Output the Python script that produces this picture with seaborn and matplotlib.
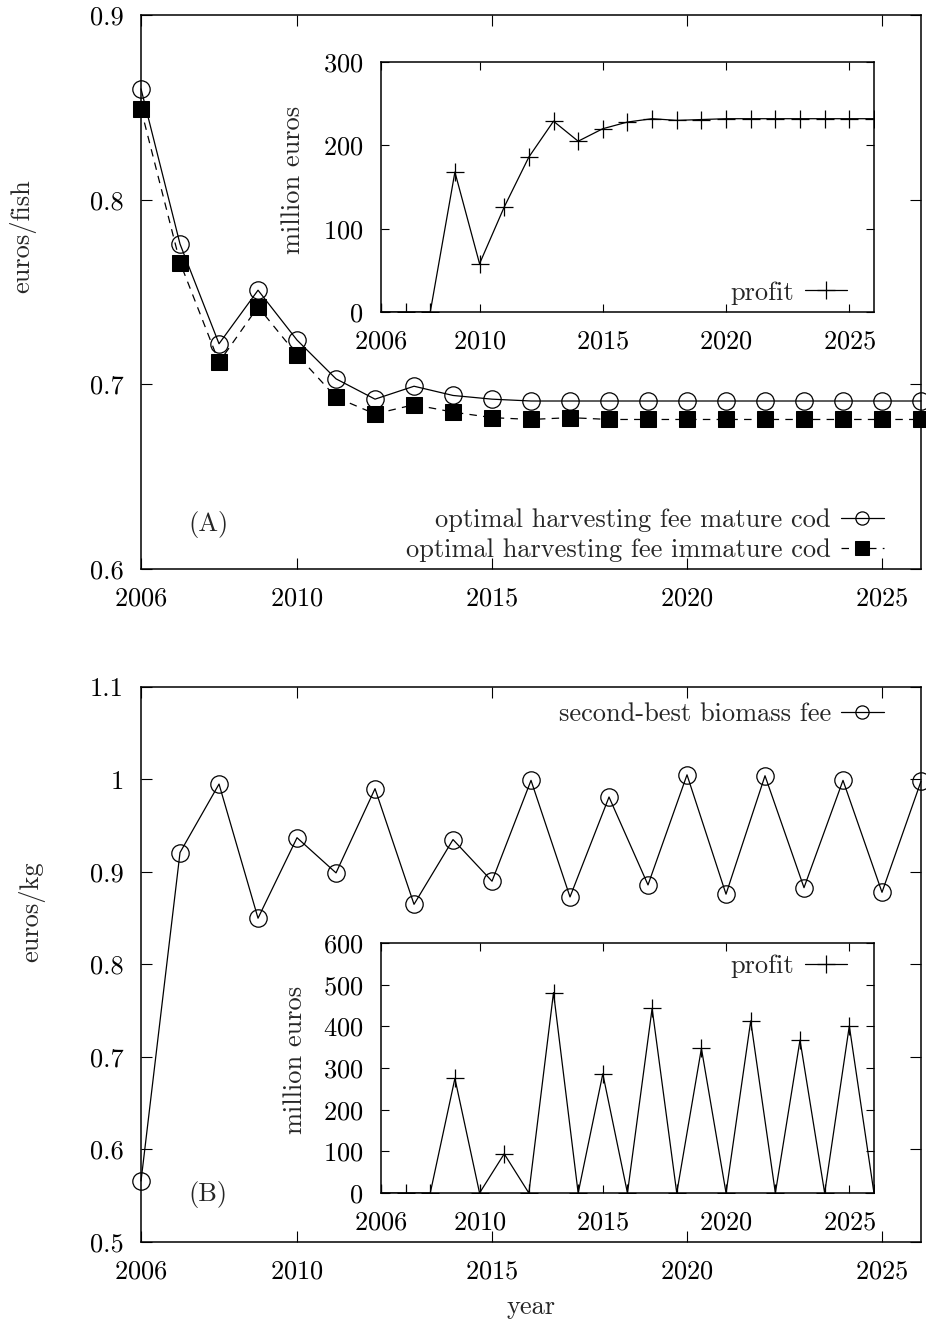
import matplotlib
matplotlib.use('Agg')
import matplotlib.pyplot as plt
import seaborn as sns

years = list(range(2006, 2027))

# panel A: fees per fish
fee_mature = [0.860, 0.776, 0.722, 0.751, 0.724, 0.703, 0.692, 0.699, 0.694, 0.692, 0.691,
              0.691, 0.691, 0.691, 0.691, 0.691, 0.691, 0.691, 0.691, 0.691, 0.691]
fee_immature = [0.849, 0.766, 0.712, 0.742, 0.716, 0.693, 0.684, 0.689, 0.685, 0.682, 0.681,
                0.682, 0.681, 0.681, 0.681, 0.681, 0.681, 0.681, 0.681, 0.681, 0.681]
profit_a = [0, 0, 0, 168, 58, 126, 186, 229, 205, 220, 228,
            232, 230, 231, 232, 232, 232, 232, 232, 232, 232]

# panel B: biomass fee
biomass_fee = [0.566, 0.921, 0.995, 0.850, 0.937, 0.899, 0.990, 0.865, 0.935, 0.890, 0.999,
               0.873, 0.981, 0.886, 1.005, 0.876, 1.004, 0.883, 0.999, 0.878, 0.998]
profit_b = [0, 0, 0, 275, 0, 94, 0, 481, 0, 286, 0,
            443, 0, 347, 0, 413, 0, 367, 0, 401, 0]

xticks = [2006, 2010, 2015, 2020, 2025]
yticks_a = [0.6, 0.7, 0.8, 0.9]
yticklabels_a = ['0.6', '0.7', '0.8', '0.9']
yticks_b = [0.5, 0.6, 0.7, 0.8, 0.9, 1.0, 1.1]
yticklabels_b = ['0.5', '0.6', '0.7', '0.8', '0.9', '1', '1.1']

FS = 19

sns.set_style('ticks')
plt.rcParams['font.family'] = 'serif'
plt.rcParams['font.serif'] = ['cmr10', 'DejaVu Serif']
plt.rcParams['mathtext.fontset'] = 'cm'
plt.rcParams['axes.formatter.use_mathtext'] = True
plt.rcParams['font.size'] = FS

fig = plt.figure(figsize=(9.26, 13.2), dpi=100)

def gp_style(ax, ticklen):
    # gnuplot look: box, ticks inside on every side
    for s in ax.spines.values():
        s.set_linewidth(1.1)
        s.set_color('black')
    ax.tick_params(direction='in', length=ticklen, width=0.8, top=True, right=True,
                   labelsize=FS, colors='black')
    ax.tick_params(axis='x', pad=12.5)
    ax.tick_params(axis='y', pad=12.5)
    ax.set_xlabel('')
    ax.set_ylabel('')

leg_kw = dict(frameon=False, markerfirst=False, handlelength=1.6, handletextpad=0.4,
              labelspacing=0.25, fontsize=FS, borderpad=0, borderaxespad=0)

# ---- panel A ----
axA = fig.add_axes([0.1523, 0.5689, 0.8423, 0.4197])
sns.lineplot(x=years, y=fee_mature, ax=axA, color='black', lw=0.9, marker='o', markersize=12.5,
             markerfacecolor='none', markeredgecolor='black', markeredgewidth=0.9,
             label='optimal harvesting fee mature cod', clip_on=False, errorbar=None)
sns.lineplot(x=years, y=fee_immature, ax=axA, color='black', lw=0.9, linestyle=(0, (6, 5)),
             marker='s', markersize=11.5, markerfacecolor='black', markeredgecolor='black',
             label='optimal harvesting fee immature cod', clip_on=False, errorbar=None)
axA.set_xlim(2006, 2026)
axA.set_ylim(0.6, 0.9)
axA.set_xticks(xticks)
axA.set_yticks(yticks_a, yticklabels_a)
gp_style(axA, 8)
legA = axA.legend(loc='lower right', bbox_to_anchor=(0.952, 0.012), **leg_kw)
for h in legA.legend_handles:
    h.set_markersize(9.5)
axA.text((208 - 141) / 780, 1 - (524 - 15) / 554, '(A)', transform=axA.transAxes, fontsize=FS,
         va='center', ha='center')

insA = fig.add_axes([0.4114, 0.7636, 0.5324, 0.1894])
sns.lineplot(x=years, y=profit_a, ax=insA, color='black', lw=0.9, marker='+', markersize=13,
             markeredgecolor='black', markeredgewidth=0.9, label='profit', errorbar=None)
insA.set_xlim(2006, 2026)
insA.set_ylim(0, 300)
insA.set_xticks(xticks)
insA.set_yticks([0, 100, 200, 300])
gp_style(insA, 6)
insA.legend(loc='lower right', bbox_to_anchor=(0.945, 0.03), **leg_kw)

# ---- panel B ----
axB = fig.add_axes([0.1523, 0.0591, 0.8423, 0.4205])
sns.lineplot(x=years, y=biomass_fee, ax=axB, color='black', lw=0.9, marker='o', markersize=12.5,
             markerfacecolor='none', markeredgecolor='black', markeredgewidth=0.9,
             label='second-best biomass fee', clip_on=False, errorbar=None)
axB.set_xlim(2006, 2026)
axB.set_ylim(0.5, 1.1)
axB.set_xticks(xticks)
axB.set_yticks(yticks_b, yticklabels_b)
gp_style(axB, 8)
legB = axB.legend(loc='upper right', bbox_to_anchor=(0.952, 0.972), **leg_kw)
for h in legB.legend_handles:
    h.set_markersize(9.5)
axB.text((208 - 141) / 780, (1242 - 1195) / 555, '(B)', transform=axB.transAxes, fontsize=FS,
         va='center', ha='center')

insB = fig.add_axes([0.4114, 0.0962, 0.5324, 0.1894])
sns.lineplot(x=years, y=profit_b, ax=insB, color='black', lw=0.9, marker='+', markersize=13,
             markeredgecolor='black', markeredgewidth=0.9, label='profit', errorbar=None)
insB.set_xlim(2006, 2026)
insB.set_ylim(0, 600)
insB.set_xticks(xticks)
insB.set_yticks([0, 100, 200, 300, 400, 500, 600])
gp_style(insB, 6)
insB.legend(loc='upper right', bbox_to_anchor=(0.945, 0.955), **leg_kw)

# axis titles placed like the original
fig.text(531 / 926, 1 - 1307 / 1320, 'year', ha='center', va='center', fontsize=FS)
fig.text(23 / 926, 1 - 236 / 1320, 'euros/fish', rotation=90, ha='center', va='center', fontsize=FS)
fig.text(32 / 926, 1 - 912 / 1320, 'euros/kg', rotation=90, ha='center', va='center', fontsize=FS)
fig.text(293 / 926, 1 - 180 / 1320, 'million euros', rotation=90, ha='center', va='center', fontsize=FS)
fig.text(295 / 926, 1 - 1060 / 1320, 'million euros', rotation=90, ha='center', va='center', fontsize=FS)

fig.savefig('out.png', dpi=100)
